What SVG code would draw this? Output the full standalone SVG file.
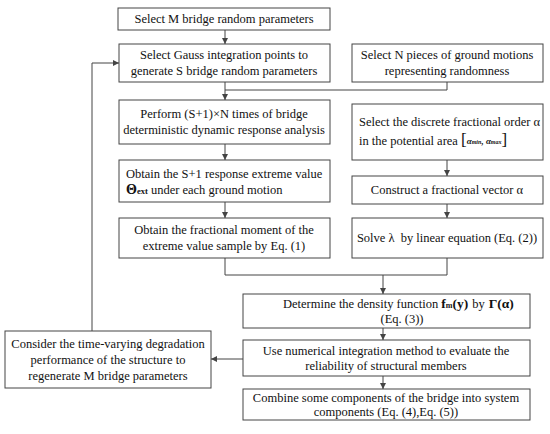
<svg xmlns="http://www.w3.org/2000/svg" width="550" height="434" viewBox="0 0 550 434">
<defs>
<style>
.box{fill:#fff;stroke:#444;stroke-width:1}
.t{font-family:"Liberation Serif","Times New Roman",serif;font-size:12.5px;fill:#111;text-anchor:middle}
.l{text-anchor:start}
.c{fill:none;stroke:#444;stroke-width:1}
.b{font-weight:bold}
</style>
<marker id="ah" markerWidth="6" markerHeight="6" refX="6" refY="3" orient="auto" markerUnits="userSpaceOnUse">
<path d="M0,0 L6,3 L0,6 z" fill="#444"/>
</marker>
</defs>
<rect width="550" height="434" fill="#fff"/>
<g id="connectors">
<line class="c" x1="225" y1="30" x2="225" y2="44" marker-end="url(#ah)"/>
<line class="c" x1="225" y1="82" x2="225" y2="100" marker-end="url(#ah)"/>
<polyline class="c" points="447,82 447,90 225,90"/>
<line class="c" x1="225" y1="144" x2="225" y2="160" marker-end="url(#ah)"/>
<line class="c" x1="225" y1="202" x2="225" y2="218" marker-end="url(#ah)"/>
<line class="c" x1="447" y1="160" x2="447" y2="176" marker-end="url(#ah)"/>
<line class="c" x1="447" y1="204" x2="447" y2="218" marker-end="url(#ah)"/>
<polyline class="c" points="225,258 225,275 447,275 447,258"/>
<line class="c" x1="383" y1="275" x2="383" y2="294" marker-end="url(#ah)"/>
<line class="c" x1="383" y1="328" x2="383" y2="340" marker-end="url(#ah)"/>
<line class="c" x1="383" y1="376" x2="383" y2="389" marker-end="url(#ah)"/>
<line class="c" x1="243" y1="359" x2="211" y2="359" marker-end="url(#ah)"/>
<polyline class="c" points="92,331 92,63 119,63" marker-end="url(#ah)"/>
</g>
<g id="n1"><rect class="box" x="118" y="8" width="212" height="22"/>
<text class="t" x="224" y="23">Select M bridge random parameters</text></g>
<g id="n2"><rect class="box" x="119" y="44" width="211" height="38"/>
<text class="t" x="224" y="59">Select Gauss integration points to</text>
<text class="t" x="224" y="75">generate S bridge random parameters</text></g>
<g id="n3"><rect class="box" x="352" y="44" width="191" height="38"/>
<text class="t" x="447" y="59">Select N pieces of ground motions</text>
<text class="t" x="447" y="75">representing randomness</text></g>
<g id="n4"><rect class="box" x="119" y="100" width="211" height="44"/>
<text class="t" x="224" y="118">Perform (S+1)×N times of bridge</text>
<text class="t" x="224" y="134">deterministic dynamic response analysis</text></g>
<g id="n5"><rect class="box" x="119" y="160" width="211" height="42"/>
<text class="t l" x="126" y="178">Obtain the S+1 response extreme value</text>
<text class="t l" x="126" y="194"><tspan class="b" font-size="14">Θ</tspan><tspan class="b" font-size="8.5">ext</tspan> under each ground motion</text></g>
<g id="n6"><rect class="box" x="119" y="218" width="211" height="40"/>
<text class="t" x="224" y="234">Obtain the fractional moment of the</text>
<text class="t" x="224" y="250">extreme value sample by Eq. (1)</text></g>
<g id="n7"><rect class="box" x="352" y="104" width="191" height="56"/>
<text class="t l" x="359" y="126">Select the discrete fractional order α</text>
<text class="t l" x="359" y="145">in the potential area <tspan font-size="17">[</tspan><tspan font-size="9" font-style="italic" font-weight="bold" dy="-1">α</tspan><tspan font-size="6" font-style="italic" font-weight="bold">min</tspan><tspan font-size="9" font-style="italic" font-weight="bold">, α</tspan><tspan font-size="6" font-style="italic" font-weight="bold">max</tspan><tspan font-size="17" dy="1">]</tspan></text></g>
<g id="n8"><rect class="box" x="352" y="176" width="191" height="28"/>
<text class="t" x="447" y="194">Construct a fractional vector α</text></g>
<g id="n9"><rect class="box" x="352" y="218" width="191" height="40"/>
<text class="t" x="447" y="242">Solve λ <tspan dx="3">by linear equation (Eq. (2))</tspan></text></g>
<g id="n10"><rect class="box" x="243" y="294" width="287" height="34"/>
<text class="t l" x="283" y="308">Determine the density function <tspan class="b" font-size="13.5">f</tspan><tspan class="b" font-size="8">m</tspan><tspan class="b" font-size="13.5">(y)</tspan><tspan dx="4">by</tspan><tspan class="b" font-size="13.5" dx="4">Γ(α)</tspan></text>
<text class="t" x="402" y="323">(Eq. (3))</text></g>
<g id="n11"><rect class="box" x="243" y="340" width="287" height="36"/>
<text class="t" x="386" y="355">Use numerical integration method to evaluate the</text>
<text class="t" x="386" y="370">reliability of structural members</text></g>
<g id="n12"><rect class="box" x="243" y="389" width="287" height="31"/>
<text class="t" x="386" y="402">Combine some components of the bridge into system</text>
<text class="t" x="386" y="416">components (Eq. (4),Eq. (5))</text></g>
<g id="n13"><rect class="box" x="5" y="331" width="206" height="57"/>
<text class="t" x="108" y="348">Consider the time-varying degradation</text>
<text class="t" x="108" y="364">performance of the structure to</text>
<text class="t" x="108" y="380">regenerate M bridge parameters</text></g>
</svg>
